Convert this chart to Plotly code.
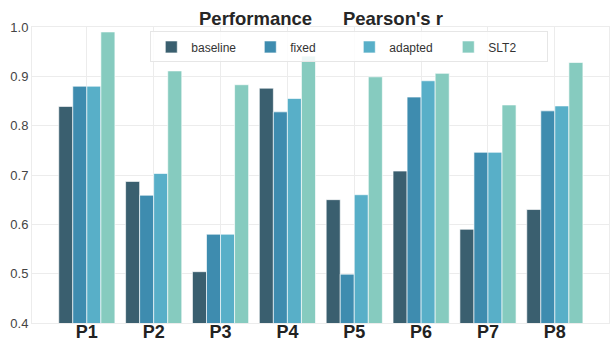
import plotly.graph_objects as go

categories = ["P1", "P2", "P3", "P4", "P5", "P6", "P7", "P8"]
series_names = ["baseline", "fixed", "adapted", "SLT2"]
baseline = [0.839, 0.687, 0.504, 0.876, 0.650, 0.708, 0.590, 0.630]
fixed = [0.880, 0.659, 0.580, 0.828, 0.499, 0.858, 0.746, 0.830]
adapted = [0.880, 0.703, 0.580, 0.855, 0.660, 0.891, 0.746, 0.840]
slt2 = [0.990, 0.911, 0.883, 0.941, 0.899, 0.906, 0.842, 0.928]
colors = ["#3a5f6f", "#3e8caf", "#58afc8", "#86cbbf"]
y_ticks = [0.4, 0.5, 0.6, 0.7, 0.8, 0.9, 1.0]

fig = go.Figure()
for name, vals, col in zip(series_names, [baseline, fixed, adapted, slt2], colors):
    fig.add_trace(go.Bar(
        x=list(range(len(categories))), y=vals, name=name,
        marker=dict(color=col, line=dict(color="rgba(255,255,255,0.8)", width=0.8)),
    ))

fig.update_layout(
    width=613, height=340,
    barmode="group", bargap=0.16, bargroupgap=0,
    paper_bgcolor="white", plot_bgcolor="white",
    margin=dict(l=32, r=4, t=27, b=17, autoexpand=False),
    font=dict(family="Liberation Sans, Arial, sans-serif", color="#444"),
    title=dict(
        text="<b>Performance" + "\u00a0" * 6 + "Pearson's r</b>",
        x=321 / 613, xanchor="center", xref="container",
        y=1 - 19 / 340, yanchor="middle", yref="container",
        font=dict(size=18.5, color="#262626"),
    ),
    legend=dict(
        orientation="h", x=0.205, xanchor="left", y=0.985, yanchor="top",
        bgcolor="rgba(255,255,255,0.85)", bordercolor="#e6e6e6", borderwidth=1,
        font=dict(size=12, color="#333"),
        entrywidth=54, entrywidthmode="pixels",
        traceorder="normal",
    ),
    showlegend=True,
)
fig.update_xaxes(
    range=[-0.82, 7.81], automargin=False,
    tickmode="array", tickvals=list(range(len(categories))),
    ticktext=[f"<b>{c}</b>" for c in categories],
    tickfont=dict(size=18, color="#222", family="Liberation Sans, Arial, sans-serif"),
    ticklabelstandoff=-8,
    showgrid=True, gridcolor="#ececec", gridwidth=1,
    ticks="", showline=True, linecolor="#ececec", mirror=True, zeroline=False,
)
fig.update_yaxes(
    range=[0.4, 1.0], automargin=False,
    tickmode="array", tickvals=y_ticks, ticktext=[f"{v:.1f}" for v in y_ticks],
    tickfont=dict(size=13, color="#444"),
    showgrid=True, gridcolor="#ececec", gridwidth=1,
    ticks="", showline=True, linecolor="#ececec", mirror=True, zeroline=False,
)

fig.write_html(
    "out.html",
    config={"displayModeBar": False},
    post_script="document.body.style.margin='0';document.body.style.overflow='hidden';",
)
